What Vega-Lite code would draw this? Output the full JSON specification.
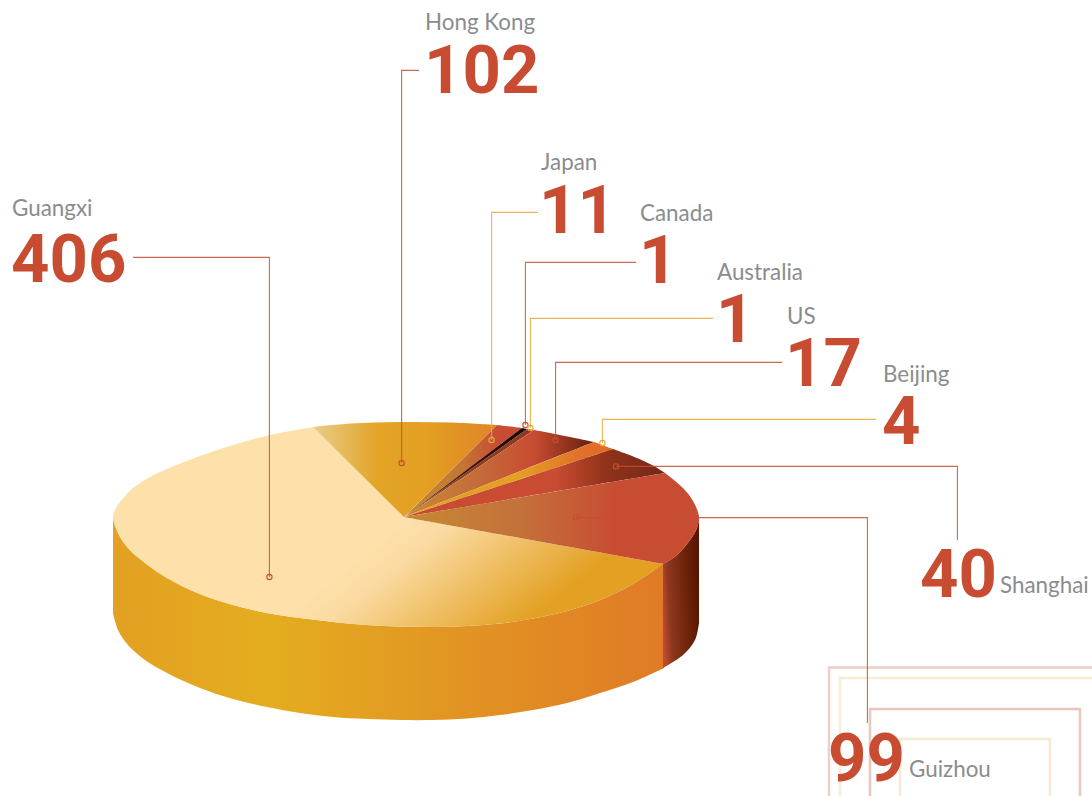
{
"$schema":"https://vega.github.io/schema/vega-lite/v6.json",
"width":1092,"height":796,"padding":0,
"autosize":{"type":"fit","contains":"padding"},
"background":"#ffffff",
"view":{"stroke":null},
"datasets":{
"frames":[
{"frame":"outer","x":829,"x2":1120,"y":667.5,"y2":830},
{"frame":"second","x":840,"x2":1120,"y":678,"y2":830},
{"frame":"third","x":870,"x2":1080,"y":709,"y2":830},
{"frame":"inner","x":900,"x2":1050,"y":739,"y2":830}
],
"outline":[
{"part":"wall","i":1,"x":113,"y":517},{"part":"wall","i":2,"x":118,"y":533},{"part":"wall","i":3,"x":128,"y":548},{"part":"wall","i":4,"x":145,"y":563},{"part":"wall","i":5,"x":167,"y":578},{"part":"wall","i":6,"x":200,"y":594},{"part":"wall","i":7,"x":233,"y":605},{"part":"wall","i":8,"x":267,"y":613},{"part":"wall","i":9,"x":300,"y":618},{"part":"wall","i":10,"x":333,"y":622},{"part":"wall","i":11,"x":367,"y":625},{"part":"wall","i":12,"x":400,"y":626.5},{"part":"wall","i":13,"x":433,"y":627},{"part":"wall","i":14,"x":467,"y":626},{"part":"wall","i":15,"x":500,"y":623.5},{"part":"wall","i":16,"x":533,"y":618.5},{"part":"wall","i":17,"x":567,"y":611},{"part":"wall","i":18,"x":600,"y":600},{"part":"wall","i":19,"x":633,"y":584},{"part":"wall","i":20,"x":664,"y":563},{"part":"wall","i":21,"x":664,"y":563},{"part":"wall","i":22,"x":664,"y":668},{"part":"wall","i":23,"x":664,"y":668},{"part":"wall","i":24,"x":633,"y":682},{"part":"wall","i":25,"x":600,"y":693},{"part":"wall","i":26,"x":567,"y":703},{"part":"wall","i":27,"x":533,"y":710},{"part":"wall","i":28,"x":500,"y":715},{"part":"wall","i":29,"x":467,"y":718.5},{"part":"wall","i":30,"x":433,"y":720},{"part":"wall","i":31,"x":400,"y":720},{"part":"wall","i":32,"x":367,"y":719},{"part":"wall","i":33,"x":333,"y":717},{"part":"wall","i":34,"x":300,"y":713},{"part":"wall","i":35,"x":267,"y":707},{"part":"wall","i":36,"x":233,"y":699},{"part":"wall","i":37,"x":200,"y":688},{"part":"wall","i":38,"x":167,"y":673},{"part":"wall","i":39,"x":145,"y":660},{"part":"wall","i":40,"x":128,"y":645},{"part":"wall","i":41,"x":118,"y":630},{"part":"wall","i":42,"x":113,"y":613},
{"part":"side","i":1,"x":663,"y":564},{"part":"side","i":2,"x":677,"y":555},{"part":"side","i":3,"x":690,"y":540},{"part":"side","i":4,"x":697,"y":528},{"part":"side","i":5,"x":699,"y":517},{"part":"side","i":6,"x":699,"y":517},{"part":"side","i":7,"x":699,"y":623},{"part":"side","i":8,"x":699,"y":623},{"part":"side","i":9,"x":695,"y":640},{"part":"side","i":10,"x":683,"y":655},{"part":"side","i":11,"x":663,"y":668},
{"part":"Guangxi","i":1,"x":313,"y":427},{"part":"Guangxi","i":2,"x":268,"y":435.5},{"part":"Guangxi","i":3,"x":233,"y":445},{"part":"Guangxi","i":4,"x":200,"y":456},{"part":"Guangxi","i":5,"x":167,"y":469},{"part":"Guangxi","i":6,"x":150,"y":477},{"part":"Guangxi","i":7,"x":133,"y":488},{"part":"Guangxi","i":8,"x":120,"y":502},{"part":"Guangxi","i":9,"x":115,"y":510},{"part":"Guangxi","i":10,"x":113,"y":518},{"part":"Guangxi","i":11,"x":118,"y":533},{"part":"Guangxi","i":12,"x":128,"y":548},{"part":"Guangxi","i":13,"x":145,"y":563},{"part":"Guangxi","i":14,"x":167,"y":578},{"part":"Guangxi","i":15,"x":200,"y":594},{"part":"Guangxi","i":16,"x":233,"y":605},{"part":"Guangxi","i":17,"x":267,"y":613},{"part":"Guangxi","i":18,"x":300,"y":618},{"part":"Guangxi","i":19,"x":333,"y":622},{"part":"Guangxi","i":20,"x":367,"y":625},{"part":"Guangxi","i":21,"x":400,"y":626.5},{"part":"Guangxi","i":22,"x":433,"y":627},{"part":"Guangxi","i":23,"x":467,"y":626},{"part":"Guangxi","i":24,"x":500,"y":623.5},{"part":"Guangxi","i":25,"x":533,"y":618.5},{"part":"Guangxi","i":26,"x":567,"y":611},{"part":"Guangxi","i":27,"x":600,"y":600},{"part":"Guangxi","i":28,"x":633,"y":584},{"part":"Guangxi","i":29,"x":663,"y":564},{"part":"Guangxi","i":30,"x":663,"y":564},{"part":"Guangxi","i":31,"x":404,"y":517},
{"part":"Hong Kong","i":1,"x":313,"y":427},{"part":"Hong Kong","i":2,"x":350,"y":423.5},{"part":"Hong Kong","i":3,"x":400,"y":422},{"part":"Hong Kong","i":4,"x":450,"y":422.5},{"part":"Hong Kong","i":5,"x":497,"y":425},{"part":"Hong Kong","i":6,"x":497,"y":425},{"part":"Hong Kong","i":7,"x":404,"y":517},
{"part":"Japan","i":1,"x":497,"y":425},{"part":"Japan","i":2,"x":522,"y":428},{"part":"Japan","i":3,"x":522,"y":428},{"part":"Japan","i":4,"x":404,"y":517},
{"part":"Canada","i":1,"x":522,"y":428},{"part":"Canada","i":2,"x":527,"y":429},{"part":"Canada","i":3,"x":527,"y":429},{"part":"Canada","i":4,"x":404,"y":517},
{"part":"Australia","i":1,"x":527,"y":429},{"part":"Australia","i":2,"x":534,"y":430},{"part":"Australia","i":3,"x":534,"y":430},{"part":"Australia","i":4,"x":404,"y":517},
{"part":"US","i":1,"x":534,"y":430},{"part":"US","i":2,"x":550,"y":433},{"part":"US","i":3,"x":570,"y":437},{"part":"US","i":4,"x":594,"y":442},{"part":"US","i":5,"x":594,"y":442},{"part":"US","i":6,"x":404,"y":517},
{"part":"Beijing","i":1,"x":594,"y":442},{"part":"Beijing","i":2,"x":613,"y":449},{"part":"Beijing","i":3,"x":613,"y":449},{"part":"Beijing","i":4,"x":404,"y":517},
{"part":"Shanghai","i":1,"x":613,"y":449},{"part":"Shanghai","i":2,"x":637,"y":458},{"part":"Shanghai","i":3,"x":652,"y":465},{"part":"Shanghai","i":4,"x":665,"y":473},{"part":"Shanghai","i":5,"x":665,"y":473},{"part":"Shanghai","i":6,"x":404,"y":517},
{"part":"Guizhou","i":1,"x":665,"y":473},{"part":"Guizhou","i":2,"x":683,"y":488},{"part":"Guizhou","i":3,"x":693,"y":501},{"part":"Guizhou","i":4,"x":699,"y":517},{"part":"Guizhou","i":5,"x":697,"y":528},{"part":"Guizhou","i":6,"x":690,"y":540},{"part":"Guizhou","i":7,"x":677,"y":555},{"part":"Guizhou","i":8,"x":663,"y":564},{"part":"Guizhou","i":9,"x":663,"y":564},{"part":"Guizhou","i":10,"x":404,"y":517}
],
"leaders":[
{"place":"Guangxi","i":1,"x":133,"y":257.4},{"place":"Guangxi","i":2,"x":269.4,"y":257.4},{"place":"Guangxi","i":3,"x":269.4,"y":577},
{"place":"Hong Kong","i":1,"x":419,"y":70.4},{"place":"Hong Kong","i":2,"x":401.6,"y":70.4},{"place":"Hong Kong","i":3,"x":401.6,"y":463},
{"place":"Japan","i":1,"x":538,"y":212.4},{"place":"Japan","i":2,"x":491.6,"y":212.4},{"place":"Japan","i":3,"x":491.6,"y":440},
{"place":"Canada","i":1,"x":636,"y":262.4},{"place":"Canada","i":2,"x":525.4,"y":262.4},{"place":"Canada","i":3,"x":525.4,"y":425},
{"place":"Australia","i":1,"x":713,"y":318.4},{"place":"Australia","i":2,"x":530.4,"y":318.4},{"place":"Australia","i":3,"x":530.4,"y":428},
{"place":"US","i":1,"x":782,"y":362.4},{"place":"US","i":2,"x":555.6,"y":362.4},{"place":"US","i":3,"x":555.6,"y":440},
{"place":"Beijing","i":1,"x":876,"y":419.4},{"place":"Beijing","i":2,"x":602.4,"y":419.4},{"place":"Beijing","i":3,"x":602.4,"y":443},
{"place":"Shanghai","i":1,"x":957.4,"y":540},{"place":"Shanghai","i":2,"x":957.4,"y":466.4},{"place":"Shanghai","i":3,"x":616,"y":466.4},
{"place":"Guizhou","i":1,"x":867.4,"y":723},{"place":"Guizhou","i":2,"x":867.4,"y":517.6},{"place":"Guizhou","i":3,"x":576,"y":517.6}
],
"anchors":[
{"place":"Guangxi","x":269.4,"y":577},{"place":"Hong Kong","x":401.6,"y":463},{"place":"Japan","x":491.6,"y":440},{"place":"Canada","x":525.4,"y":425},{"place":"Australia","x":530.4,"y":428},{"place":"US","x":555.6,"y":440},{"place":"Beijing","x":602.4,"y":443},{"place":"Shanghai","x":616,"y":466.4},{"place":"Guizhou","x":576,"y":517.6}
],
"names":[
{"place":"Guangxi","x":12,"y":216},{"place":"Hong Kong","x":425,"y":30},{"place":"Japan","x":541,"y":170},{"place":"Canada","x":640,"y":221},{"place":"Australia","x":717,"y":280},{"place":"US","x":787,"y":324},{"place":"Beijing","x":883,"y":382},{"place":"Shanghai","x":1000,"y":593},{"place":"Guizhou","x":909,"y":777}
],
"counts":[
{"place":"Guangxi","count":406,"x":11,"y":282},{"place":"Hong Kong","count":102,"x":424,"y":93},{"place":"Japan","count":11,"x":539,"y":233},{"place":"Canada","count":1,"x":639,"y":283},{"place":"Australia","count":1,"x":716,"y":342},{"place":"US","count":17,"x":785,"y":386},{"place":"Beijing","count":4,"x":882,"y":444},{"place":"Shanghai","count":40,"x":920,"y":597},{"place":"Guizhou","count":99,"x":828,"y":781}
]
},
"encoding":{
"x":{"field":"x","type":"quantitative","axis":null,"scale":{"domain":[0,1092],"nice":false,"zero":false}},
"y":{"field":"y","type":"quantitative","axis":null,"scale":{"domain":[796,0],"nice":false,"zero":false}}
},
"layer":[
{"data":{"name":"frames"},"mark":{"type":"rect","fill":"transparent","strokeWidth":2.5,"clip":true,"opacity":0.75},
 "encoding":{"x2":{"field":"x2"},"y2":{"field":"y2"},"stroke":{"field":"frame","type":"nominal","legend":null,"scale":{"domain":["outer","second","third","inner"],"range":["#e8bfb2","#f5e6cc","#e3b3a8","#f3e3c4"]}}}},
{"data":{"name":"outline"},"transform":[{"filter":"datum.part==='wall'"}],"mark":{"type":"line","interpolate":"catmull-rom","strokeWidth":0,"fill":{"gradient":"linear","x1":0,"y1":0,"x2":1,"y2":0,"stops":[{"offset":0,"color":"#e3a022"},{"offset":0.28,"color":"#e4ad1f"},{"offset":0.55,"color":"#e29a22"},{"offset":1,"color":"#e07a26"}]}},"encoding":{"order":{"field":"i"}}},
{"data":{"name":"outline"},"transform":[{"filter":"datum.part==='side'"}],"mark":{"type":"line","interpolate":"catmull-rom","strokeWidth":0,"fill":{"gradient":"linear","x1":0,"y1":0.7,"x2":1,"y2":0.5,"stops":[{"offset":0,"color":"#c04a30"},{"offset":0.2,"color":"#8e3820"},{"offset":0.65,"color":"#6e2409"},{"offset":1,"color":"#5a1500"}]}},"encoding":{"order":{"field":"i"}}},
{"data":{"name":"outline"},"transform":[{"filter":"datum.part==='Guangxi'"}],"mark":{"type":"line","interpolate":"catmull-rom","strokeWidth":0,"fill":{"gradient":"linear","x1":0.36,"y1":0.85,"x2":0.731,"y2":1.022,"stops":[{"offset":0,"color":"#fde0aa"},{"offset":0.2,"color":"#fadaa0"},{"offset":1,"color":"#e3a022"}]}},"encoding":{"order":{"field":"i"}}},
{"data":{"name":"outline"},"transform":[{"filter":"datum.part==='Hong Kong'"}],"mark":{"type":"line","interpolate":"catmull-rom","strokeWidth":0,"fill":{"gradient":"linear","x1":0,"y1":0,"x2":1,"y2":0,"stops":[{"offset":0,"color":"#e8cd8a"},{"offset":0.35,"color":"#e3a428"},{"offset":0.6,"color":"#e3a022"},{"offset":1,"color":"#e08428"}]}},"encoding":{"order":{"field":"i"}}},
{"data":{"name":"outline"},"transform":[{"filter":"datum.part==='Japan'"}],"mark":{"type":"line","interpolate":"catmull-rom","strokeWidth":0,"fill":{"gradient":"linear","x1":0,"y1":0,"x2":1,"y2":0,"stops":[{"offset":0,"color":"#c88c28"},{"offset":0.5,"color":"#c37533"},{"offset":0.8,"color":"#c84c32"},{"offset":1,"color":"#c84c32"}]}},"encoding":{"order":{"field":"i"}}},
{"data":{"name":"outline"},"transform":[{"filter":"datum.part==='Canada'"}],"mark":{"type":"line","interpolate":"catmull-rom","strokeWidth":0,"fill":{"gradient":"linear","x1":0,"y1":0,"x2":1,"y2":0,"stops":[{"offset":0,"color":"#8a4a20"},{"offset":0.6,"color":"#3a1005"},{"offset":1,"color":"#160500"}]}},"encoding":{"order":{"field":"i"}}},
{"data":{"name":"outline"},"transform":[{"filter":"datum.part==='Australia'"}],"mark":{"type":"line","interpolate":"catmull-rom","strokeWidth":0,"fill":"#8c3a20"},"encoding":{"order":{"field":"i"}}},
{"data":{"name":"outline"},"transform":[{"filter":"datum.part==='US'"}],"mark":{"type":"line","interpolate":"catmull-rom","strokeWidth":0,"fill":{"gradient":"linear","x1":0,"y1":0,"x2":1,"y2":0,"stops":[{"offset":0,"color":"#c98a30"},{"offset":0.35,"color":"#c4703a"},{"offset":0.68,"color":"#c94c32"},{"offset":1,"color":"#661f0c"}]}},"encoding":{"order":{"field":"i"}}},
{"data":{"name":"outline"},"transform":[{"filter":"datum.part==='Beijing'"}],"mark":{"type":"line","interpolate":"catmull-rom","strokeWidth":0,"fill":{"gradient":"linear","x1":0,"y1":0,"x2":1,"y2":0,"stops":[{"offset":0,"color":"#e3a022"},{"offset":0.55,"color":"#e3a022"},{"offset":0.85,"color":"#e0702a"},{"offset":1,"color":"#e26a24"}]}},"encoding":{"order":{"field":"i"}}},
{"data":{"name":"outline"},"transform":[{"filter":"datum.part==='Shanghai'"}],"mark":{"type":"line","interpolate":"catmull-rom","strokeWidth":0,"fill":{"gradient":"linear","x1":0,"y1":0,"x2":1,"y2":0,"stops":[{"offset":0,"color":"#c94a32"},{"offset":0.58,"color":"#c84c32"},{"offset":0.78,"color":"#8f3219"},{"offset":1,"color":"#74291a"}]}},"encoding":{"order":{"field":"i"}}},
{"data":{"name":"outline"},"transform":[{"filter":"datum.part==='Guizhou'"}],"mark":{"type":"line","interpolate":"catmull-rom","strokeWidth":0,"fill":{"gradient":"linear","x1":0,"y1":0,"x2":1,"y2":0,"stops":[{"offset":0,"color":"#c68a33"},{"offset":0.4,"color":"#c4703a"},{"offset":0.72,"color":"#c84c32"},{"offset":1,"color":"#c84c32"}]}},"encoding":{"order":{"field":"i"}}},
{"data":{"name":"leaders"},"mark":{"type":"line","strokeWidth":1.1,"strokeOpacity":0.85},"encoding":{"order":{"field":"i"},"color":{"field":"place","type":"nominal","legend":null,"scale":{"domain":["Guangxi","Hong Kong","Japan","Canada","Australia","US","Beijing","Shanghai","Guizhou"],"range":["#c84c32","#c84c32","#e8a838","#c84c32","#e8a838","#c84c32","#e8a838","#c84c32","#c84c32"]}}}},
{"data":{"name":"anchors"},"mark":{"type":"point","filled":false,"size":28,"strokeWidth":1.1,"opacity":1},"encoding":{"color":{"field":"place","type":"nominal","legend":null}}},
{"data":{"name":"names"},"mark":{"type":"text","font":"Lato","fontSize":22.4,"align":"left","baseline":"alphabetic","color":"#8a8c8e"},"encoding":{"text":{"field":"place","type":"nominal"}}},
{"data":{"name":"counts"},"mark":{"type":"text","font":"Roboto","fontSize":67,"fontWeight":700,"align":"left","baseline":"alphabetic","color":"#c84c32"},"encoding":{"text":{"field":"count","type":"quantitative"}}}
]
}
